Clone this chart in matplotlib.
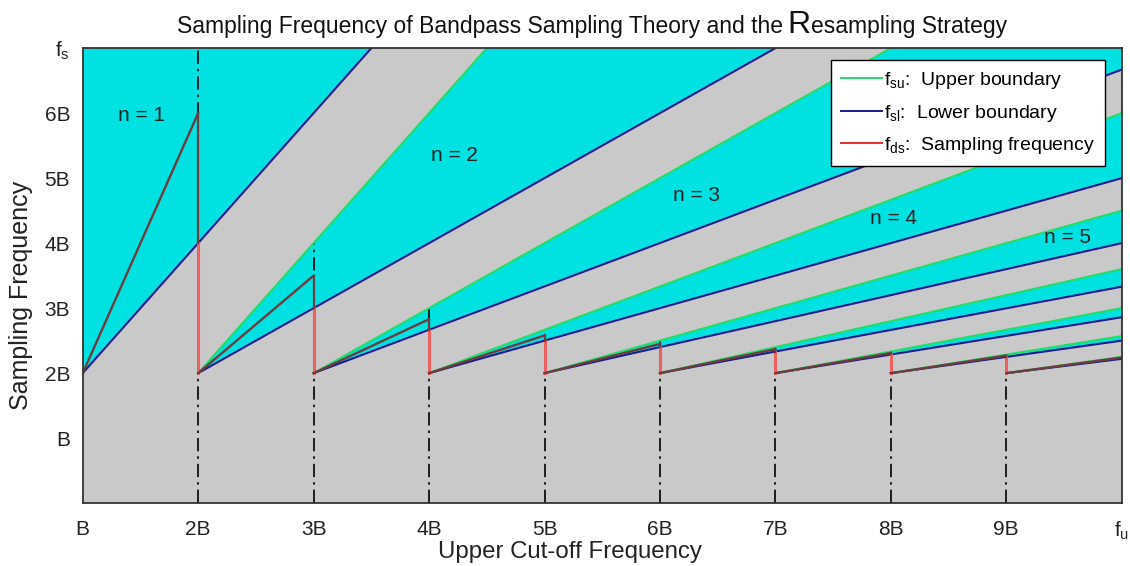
import matplotlib

matplotlib.use("Agg")
import matplotlib.pyplot as plt
from matplotlib.lines import Line2D

plt.rcParams["font.family"] = ["Liberation Sans", "DejaVu Sans"]
plt.rcParams["mathtext.fontset"] = "custom"
plt.rcParams["mathtext.rm"] = "Liberation Sans"

# bandpass orders; every pair of boundaries starts at (n*B, 2B)
orders = [1, 2, 3, 4, 5, 6, 7, 8, 9]
start_fs = 2.0
x_end = 10.0
# boundary values read at f_u = 10B (lines run straight from (n, 2B))
lower_end = [20.0, 10.0, 6.67, 5.0, 4.0, 3.33, 2.86, 2.5, 2.22]
upper_end = [None, 18.0, 9.0, 6.0, 4.5, 3.6, 3.0, 2.57, 2.25]
# resampling frequency: rises from 2B at n*B to a peak at (n+1)*B, then drops
ds_peak = [6.0, 3.5, 2.83, 2.58, 2.45, 2.37, 2.31, 2.27, 2.24]
# height where each drop leaves the allowed (cyan) band
ds_split = [4.0, 3.0, 2.67, 2.5, 2.4, 2.33, 2.29, 2.25]
# dash-dot dividers
divider_x = [2, 3, 4, 5, 6, 7, 8, 9]
divider_top = [7.0, 4.0, 3.0, 2.67, 2.5, 2.4, 2.33, 2.29]

n_labels = ["n = 1", "n = 2", "n = 3", "n = 4", "n = 5"]
n_label_x = [1.51, 4.22, 6.32, 8.02, 9.53]
n_label_y = [5.97, 5.35, 4.74, 4.38, 4.08]

xtick_vals = [1, 2, 3, 4, 5, 6, 7, 8, 9, 10]
xtick_labels = ["B", "2B", "3B", "4B", "5B", "6B", "7B", "8B", "9B", r"$\mathregular{f_u}$"]
ytick_vals = [1, 2, 3, 4, 5, 6, 7]
ytick_labels = ["B", "2B", "3B", "4B", "5B", "6B", r"$\mathregular{f_s}$"]

CYAN = "#00e2e2"
GRAY = "#c9c9c9"
GREEN = "#22dd66"
BLUE = "#1c1c8a"
RED = "#e83030"
RED_SOFT = "#ee5f5f"
RED_DARK = "#6e3c3c"

fig = plt.figure(figsize=(11.3, 5.66), dpi=100)
fig.patch.set_facecolor("white")
ax = fig.add_axes([0.0732, 0.111, 0.9195, 0.804])
ax.set_facecolor(GRAY)

# allowed regions
for n, lo, up in zip(orders, lower_end, upper_end):
    if up is None:
        ax.fill([n, x_end, n], [start_fs, lo, lo], color=CYAN, lw=0, zorder=1)
    else:
        ax.fill([n, x_end, x_end], [start_fs, up, lo], color=CYAN, lw=0, zorder=1)

# dividers
for xd, top in zip(divider_x, divider_top):
    ax.plot([xd, xd], [0, top], color="black", lw=1.2, zorder=2,
            dashes=(8, 3, 1.5, 3))

# boundaries
for n, lo, up in zip(orders, lower_end, upper_end):
    ax.plot([n, x_end], [start_fs, lo], color=BLUE, lw=1.5, zorder=3)
    if up is not None:
        ax.plot([n, x_end], [start_fs, up], color=GREEN, lw=1.5, zorder=3)

# resampling frequency
for i, xd in enumerate(divider_x):
    ax.plot([xd, xd], [start_fs, ds_split[i]], color=RED_SOFT, lw=2.2, zorder=4)
    ax.plot([xd, xd], [ds_split[i], ds_peak[i]], color=RED_DARK, lw=1.6, zorder=4)
for i, n in enumerate(orders):
    ax.plot([n, n + 1], [start_fs, ds_peak[i]], color=RED_DARK, lw=1.7, zorder=5)

for txt, tx, ty in zip(n_labels, n_label_x, n_label_y):
    ax.text(tx, ty, txt, fontsize=15, ha="center", va="center", color="#222222", zorder=6)

ax.set_xlim(1, 10)
ax.set_ylim(0, 7)
ax.set_xticks(xtick_vals)
ax.set_xticklabels(xtick_labels, fontsize=15)
ax.set_yticks(ytick_vals)
ax.set_yticklabels(ytick_labels, fontsize=15)
ax.tick_params(length=0, colors="#222222")
ax.tick_params(axis="x", pad=12)
ax.tick_params(axis="y", pad=9)
for sp in ax.spines.values():
    sp.set_color("#333333")
    sp.set_linewidth(1.3)
    sp.set_zorder(7)

ax.set_xlabel("Upper Cut-off Frequency", fontsize=17.3, color="#222222")
ax.set_ylabel("Sampling Frequency", fontsize=18, color="#222222")
ax.xaxis.set_label_coords(0.469, -0.083)
ax.yaxis.set_label_coords(-0.048, 0.457)

handles = [
    Line2D([], [], color=GREEN, lw=1.4),
    Line2D([], [], color=BLUE, lw=1.4),
    Line2D([], [], color=RED, lw=1.4),
]
leg_labels = [
    r"$\mathregular{f_{su}}$:  Upper boundary",
    r"$\mathregular{f_{sl}}$:  Lower boundary",
    r"$\mathregular{f_{ds}}$:  Sampling frequency",
]
leg = ax.legend(handles, leg_labels, loc="upper right", bbox_to_anchor=(0.9836, 0.9736),
                borderaxespad=0, fontsize=14, fancybox=False, framealpha=1,
                edgecolor="black", handlelength=2.1, handletextpad=0.1,
                labelspacing=0.6, borderpad=0.5)
leg.get_frame().set_linewidth(1.0)
leg.set_zorder(8)

# title with the enlarged "R"
parts = ["Sampling Frequency of Bandpass Sampling Theory and the", "R", "esampling Strategy"]
sizes = [16.5, 23, 16.5]
gaps = [5, 0, 0]
renderer = fig.canvas.get_renderer()
texts = [fig.text(0, 0.942, p, fontsize=s, ha="left", va="baseline", color="#111111")
         for p, s in zip(parts, sizes)]
widths = [t.get_window_extent(renderer).width for t in texts]
total = sum(widths) + sum(gaps)
x_px = 592 - total / 2
for t, w, g in zip(texts, widths, gaps):
    t.set_x(x_px / fig.bbox.width)
    x_px += w + g

fig.savefig("out.png", dpi=100, facecolor="white")
